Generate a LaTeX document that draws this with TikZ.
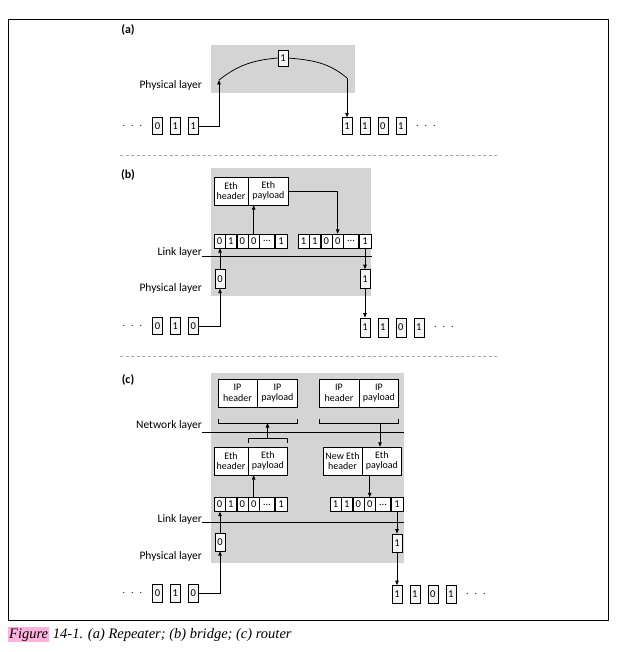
\documentclass[tikz,border=0pt]{standalone}
\usepackage{fontspec}
\setmainfont{Carlito}
\newfontfamily\capfont{Liberation Serif}
\usetikzlibrary{arrows.meta,positioning}
\definecolor{layergray}{rgb}{0.83,0.83,0.83}
\definecolor{figpink}{rgb}{1.0,0.70,0.87}

\begin{document}
\begin{tikzpicture}[x=1pt, y=-1pt,
    layer/.style={fill=layergray},
    bit/.style={draw, fill=black!4, minimum width=10pt, minimum height=17pt,
                inner sep=0pt, font=\fontsize{10.5}{10}\selectfont},
    cell/.style={draw, fill=white, minimum width=11pt, minimum height=14pt,
                 inner sep=0pt, font=\fontsize{10.5}{10}\selectfont},
    pkt/.style={draw, fill=white, minimum height=28pt, inner sep=0pt,
                align=center, font=\fontsize{10}{10.5}\selectfont},
    lbl/.style={anchor=east, inner sep=0pt, font=\fontsize{11.5}{12}\selectfont},
    tag/.style={font=\bfseries\fontsize{12}{12}\selectfont},
    dots/.style={inner sep=0pt, font=\fontsize{10}{10}\selectfont},
    arr/.style={-{Triangle[length=4.5pt,width=3.5pt]}, line width=0.75pt},
    wire/.style={line width=0.75pt},
    sep/.style={dash pattern=on 3pt off 2.5pt, gray!70, line width=1pt},
    capt/.style={font=\capfont\itshape\fontsize{14.5}{15}\selectfont, inner sep=1pt}
  ]
  \useasboundingbox (0,0) rectangle (616,652);
  \draw[line width=0.8pt] (8,19) rectangle (608,620);

  % (a) repeater
  \node[tag] (ta) at (128,30) {(a)};
  \fill[layer] (211,45) rectangle (355,93);
  \node[lbl] (pa) at (202,85) {Physical layer};
  \node[bit] (a1) at (157.5,126) {0};
  \node[bit, right=7.5pt of a1] (a2) {1};
  \node[bit, right=7.5pt of a2] (a3) {1};
  \node[dots, left=10pt of a1] (ad) {.\hspace{6pt}.\hspace{6pt}.};
  \node[bit, minimum height=16pt] (ao) at (283,58) {1};
  \node[bit] (aq1) at (347,126) {1};
  \node[bit, right=7.5pt of aq1] (aq2) {1};
  \node[bit, right=7.5pt of aq2] (aq3) {0};
  \node[bit, right=7.5pt of aq3] (aq4) {1};
  \node[dots, right=10pt of aq4] (aqd) {.\hspace{6pt}.\hspace{6pt}.};
  \coordinate (ain) at (219,80);
  \coordinate (aout) at (347,78);
  \draw[arr] (a3.east) -| (ain);
  \draw[wire] (ain) to[out=38, in=185] (ao.west);
  \draw[wire] (ao.east) to[out=-5, in=140] (aout);
  \draw[arr] (aout) -- (aq1.north);

  \draw[sep] (120,156) -- (497,156);

  % (b) bridge
  \node[tag] (tb) at (128,175) {(b)};
  \fill[layer] (211,168) rectangle (371,296);
  \node[pkt, minimum width=34pt] (bh) at (231,191) {Eth\\header};
  \node[pkt, minimum width=40pt, right=0pt of bh] (bp) {Eth\\payload};
  \node[cell] (bl1) at (219.5,241) {0};
  \node[cell, right=0pt of bl1] (bl2) {1};
  \node[cell, right=0pt of bl2] (bl3) {0};
  \node[cell, right=0pt of bl3] (bl4) {0};
  \node[cell, minimum width=15pt, right=0pt of bl4] (bl5) {\dots};
  \node[cell, minimum width=12pt, right=0pt of bl5] (bl6) {1};
  \node[cell] (br1) at (303.5,241) {1};
  \node[cell, right=0pt of br1] (br2) {1};
  \node[cell, right=0pt of br2] (br3) {0};
  \node[cell, right=0pt of br3] (br4) {0};
  \node[cell, minimum width=15pt, right=0pt of br4] (br5) {\dots};
  \node[cell, minimum width=12pt, right=0pt of br5] (br6) {1};
  \draw[wire] (202,256) -- (372,256);
  \node[lbl] (lb) at (202,252) {Link layer};
  \node[bit, minimum height=19pt] (bz) at (220,279) {0};
  \node[bit, minimum height=19pt, below=21pt of br6] (bo) {1};
  \node[lbl] (pb) at (202,288) {Physical layer};
  \node[bit] (bb1) at (157.5,326) {0};
  \node[bit, right=7.5pt of bb1] (bb2) {1};
  \node[bit, right=7.5pt of bb2] (bb3) {0};
  \node[dots, left=10pt of bb1] (bbd) {.\hspace{6pt}.\hspace{6pt}.};
  \node[bit, minimum height=19pt, below=29pt of bo] (bq1) {1};
  \node[bit, minimum height=19pt, right=7.5pt of bq1] (bq2) {1};
  \node[bit, minimum height=19pt, right=7.5pt of bq2] (bq3) {0};
  \node[bit, minimum height=19pt, right=7.5pt of bq3] (bq4) {1};
  \node[dots, right=10pt of bq4] (bqd) {.\hspace{6pt}.\hspace{6pt}.};
  \draw[arr] (bb3.east) -| (bz.south);
  \draw[arr] (bz.north) -- (bz.north |- bl1.south);
  \draw[arr] (bl4.north) -- (bl4.north |- bp.south);
  \draw[arr] (bp.east) -| (br4.north);
  \draw[arr] (br6.south) -- (bo.north);
  \draw[arr] (bo.south) -- (bq1.north);

  \draw[sep] (120,356) -- (497,356);

  % (c) router
  \node[tag] (tc) at (128,380) {(c)};
  \fill[layer] (211,373) rectangle (404,563);
  \node[pkt, minimum width=39pt] (ch1) at (237.5,393) {IP\\header};
  \node[pkt, minimum width=40pt, right=0pt of ch1] (cp1) {IP\\payload};
  \node[pkt, minimum width=40pt] (ch2) at (339,393) {IP\\header};
  \node[pkt, minimum width=39pt, right=0pt of ch2] (cp2) {IP\\payload};
  \node[lbl] (nc) at (202,425) {Network layer};
  \draw[wire] (202,432) -- (404,432);
  \draw[wire] (218,419) |- (297,423) -- (297,419);
  \draw[wire] (319,419) |- (398,423) -- (398,419);
  \draw[wire] (248,443) |- (287,438) -- (287,443);
  \node[pkt, minimum width=34pt] (ce1) at (231,461) {Eth\\header};
  \node[pkt, minimum width=39pt, right=0pt of ce1] (cf1) {Eth\\payload};
  \node[pkt, minimum width=39pt] (ce2) at (342.5,461) {New Eth\\header};
  \node[pkt, minimum width=39pt, right=0pt of ce2] (cf2) {Eth\\payload};
  \coordinate (kl) at (267.5,438);
  \coordinate (ku) at (267.5,423);
  \coordinate (kr) at (380,423);
  \draw[arr] (kl) -- (ku);
  \draw[arr] (kr) -- (kr |- cf2.north);
  \node[cell] (cl1) at (219.5,504.5) {0};
  \node[cell, right=0pt of cl1] (cl2) {1};
  \node[cell, right=0pt of cl2] (cl3) {0};
  \node[cell, right=0pt of cl3] (cl4) {0};
  \node[cell, minimum width=15pt, right=0pt of cl4] (cl5) {\dots};
  \node[cell, minimum width=12pt, right=0pt of cl5] (cl6) {1};
  \node[cell] (cr1) at (335.5,504.5) {1};
  \node[cell, right=0pt of cr1] (cr2) {1};
  \node[cell, right=0pt of cr2] (cr3) {0};
  \node[cell, right=0pt of cr3] (cr4) {0};
  \node[cell, minimum width=15pt, right=0pt of cr4] (cr5) {\dots};
  \node[cell, minimum width=12pt, right=0pt of cr5] (cr6) {1};
  \draw[arr] (cl4.north) -- (cl4.north |- cf1.south);
  \draw[arr] (cr4.north |- cf2.south) -- (cr4.north);
  \draw[wire] (202,522) -- (404,522);
  \node[lbl] (lc) at (202,519) {Link layer};
  \node[bit, minimum height=18pt] (cz) at (220,542) {0};
  \node[bit, minimum height=18pt, below=22pt of cr6] (co) {1};
  \node[lbl] (pc) at (202,556) {Physical layer};
  \node[bit, minimum height=18pt] (cb1) at (157.5,593) {0};
  \node[bit, minimum height=18pt, right=7.5pt of cb1] (cb2) {1};
  \node[bit, minimum height=18pt, right=7.5pt of cb2] (cb3) {0};
  \node[dots, left=10pt of cb1] (cbd) {.\hspace{6pt}.\hspace{6pt}.};
  \node[bit, minimum height=18pt, below=33pt of co] (cq1) {1};
  \node[bit, minimum height=18pt, right=7.5pt of cq1] (cq2) {1};
  \node[bit, minimum height=18pt, right=7.5pt of cq2] (cq3) {0};
  \node[bit, minimum height=18pt, right=7.5pt of cq3] (cq4) {1};
  \node[dots, right=10pt of cq4] (cqd) {.\hspace{6pt}.\hspace{6pt}.};
  \draw[arr] (cb3.east) -| (cz.south);
  \draw[arr] (cz.north) -- (cz.north |- cl1.south);
  \draw[arr] (cr6.south) -- (co.north);
  \draw[arr] (co.south) -- (cq1.north);

  % caption
  \node[capt, fill=figpink, anchor=base west] (fg) at (8,638) {Figure};
  \node[capt, anchor=base west] (cap) at (fg.base east) {\,14-1. (a) Repeater; (b) bridge; (c) router};
\end{tikzpicture}
\end{document}
